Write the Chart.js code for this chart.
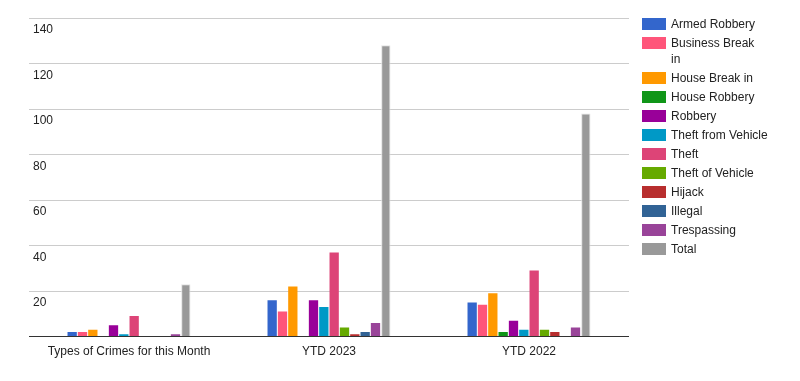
<!DOCTYPE html>
<html lang="en">
<head>
  <meta charset="UTF-8" />
  <title>Crime Stats</title>
  <script src="https://cdn.jsdelivr.net/npm/chart.js"></script>
  <style>
    body {
      margin: 0;
      background: #fff;
      font-family: Arial, 'Liberation Sans', sans-serif;
    }
    #wrap {
      position: relative;
      width: 800px;
      height: 381px;
    }
    #legend {
      position: absolute;
      left: 642px;
      top: 16px;
      font-size: 12px;
      color: #222;
    }
    .row {
      position: relative;
      padding-left: 29px;
      line-height: 16px;
      margin-bottom: 3px;
    }
    .row span.box {
      position: absolute;
      left: 0;
      top: 2px;
      width: 24px;
      height: 12px;
    }
  </style>
</head>
<body>
  <div id="wrap">
    <canvas id="crimeChart" width="800" height="381"></canvas>
    <div id="legend"></div>
  </div>

  <script>
    const categories = ['Types of Crimes for this Month', 'YTD 2023', 'YTD 2022'];
    const crimeTypes = ['Armed Robbery', 'Business Break in', 'House Break in', 'House Robbery', 'Robbery',
      'Theft from Vehicle', 'Theft', 'Theft of Vehicle', 'Hijack', 'Illegal', 'Trespassing', 'Total'];
    const colors = ['#3366cc', '#ff557a', '#ff9900', '#109618', '#990099', '#0099c6',
      '#dd4477', '#66aa00', '#b82e2e', '#316395', '#994499', '#999999'];

    // values per crime type: [this month, YTD 2023, YTD 2022]
    const armedRobbery     = [2, 16, 15];
    const businessBreakIn  = [2, 11, 14];
    const houseBreakIn     = [3, 22, 19];
    const houseRobbery     = [0, 0, 2];
    const robbery          = [5, 16, 7];
    const theftFromVehicle = [1, 13, 3];
    const theft            = [9, 37, 29];
    const theftOfVehicle   = [0, 4, 3];
    const hijack           = [0, 1, 2];
    const illegal          = [0, 2, 0];
    const trespassing      = [1, 6, 4];
    const total            = [23, 128, 98];

    const yTicks = [0, 20, 40, 60, 80, 100, 120, 140];

    const series = [armedRobbery, businessBreakIn, houseBreakIn, houseRobbery, robbery, theftFromVehicle,
      theft, theftOfVehicle, hijack, illegal, trespassing, total];

    const datasets = series.map((vals, i) => ({
      label: crimeTypes[i],
      data: vals,
      backgroundColor: colors[i],
      borderColor: i === series.length - 1 ? '#e2e2e2' : colors[i],
      borderWidth: i === series.length - 1 ? 1 : 0,
      categoryPercentage: 0.62,
      barPercentage: 0.9
    }));

    Chart.defaults.font.family = "Arial, 'Liberation Sans', sans-serif";
    Chart.defaults.font.size = 12;
    Chart.defaults.color = '#222';

    new Chart(document.getElementById('crimeChart'), {
      type: 'bar',
      data: { labels: categories, datasets: datasets },
      options: {
        responsive: false,
        animation: false,
        layout: { padding: { left: 21, right: 171, top: 18, bottom: 14 } },
        plugins: {
          legend: { display: false },
          tooltip: { enabled: false }
        },
        scales: {
          x: {
            grid: { display: false, drawTicks: false },
            border: { display: false },
            ticks: { padding: 8 }
          },
          y: {
            min: yTicks[0],
            max: yTicks[yTicks.length - 1],
            afterBuildTicks: axis => { axis.ticks = yTicks.map(v => ({ value: v })); },
            border: { display: false },
            grid: {
              drawTicks: false,
              color: ctx => ctx.tick && ctx.tick.value === 0 ? '#333' : '#ccc'
            },
            ticks: {
              mirror: true,
              padding: 4,
              labelOffset: 12,
              callback: v => v === 0 ? '' : v
            }
          }
        }
      }
    });

    // legend on the right (Business Break in wraps like the original)
    const legend = document.getElementById('legend');
    crimeTypes.forEach((name, i) => {
      const row = document.createElement('div');
      row.className = 'row';
      const text = name === 'Business Break in' ? 'Business Break<br>in' : name;
      row.innerHTML = `<span class="box" style="background:${colors[i]}"></span>${text}`;
      legend.appendChild(row);
    });
  </script>
</body>
</html>
